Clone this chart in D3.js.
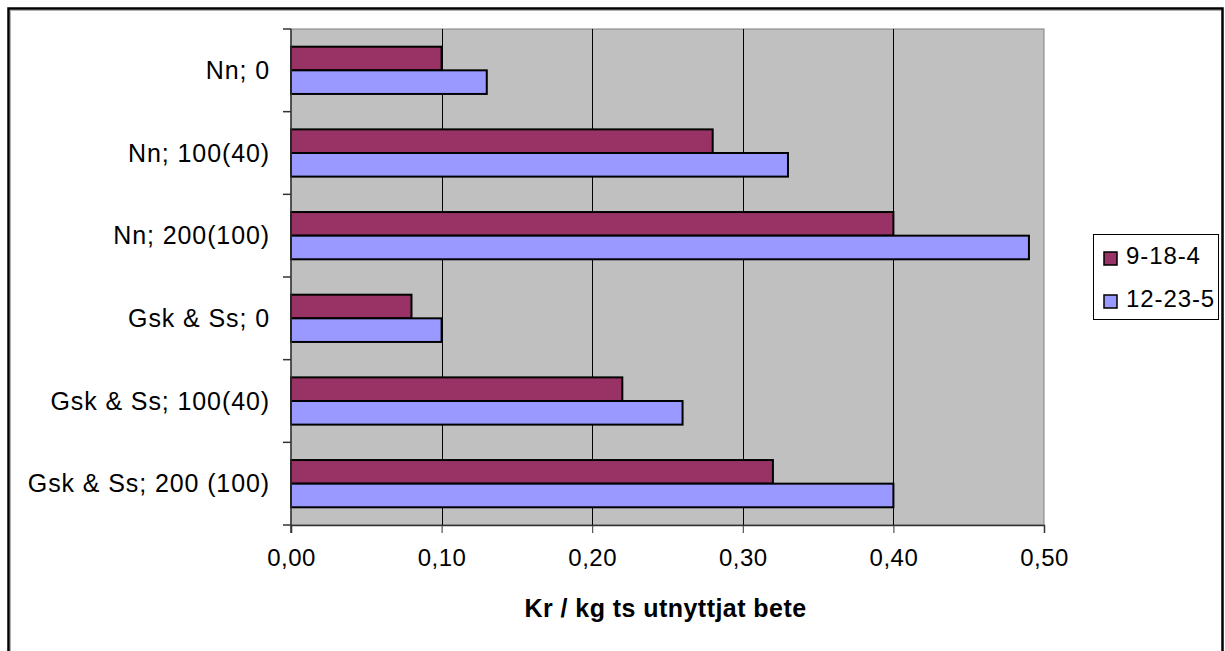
<!DOCTYPE html>
<html>
<head>
<meta charset="utf-8">
<script src="https://cdn.jsdelivr.net/npm/d3@7"></script>
<style>
  html, body { margin: 0; padding: 0; background: #ffffff; }
  svg { display: block; }
  text { font-family: "Liberation Sans", Arial, sans-serif; fill: #000; }
</style>
</head>
<body>
<svg id="chart" width="1225" height="651"></svg>
<script>
// Categories (top to bottom) and series values, kr per kg utilised grazing
const categories = ["Nn; 0", "Nn; 100(40)", "Nn; 200(100)", "Gsk & Ss; 0", "Gsk & Ss; 100(40)", "Gsk & Ss; 200 (100)"];
const seriesNames = ["9-18-4", "12-23-5"];
const values_9_18_4 = [0.10, 0.28, 0.40, 0.08, 0.22, 0.32];
const values_12_23_5 = [0.13, 0.33, 0.49, 0.10, 0.26, 0.40];
const xTicks = [0, 0.1, 0.2, 0.3, 0.4, 0.5];
const axisTitle = "Kr / kg ts utnyttjat bete";
const colors = ["#993366", "#9999FF"];

const seriesValues = [values_9_18_4, values_12_23_5];
const rows = categories.map((c, i) => ({
  category: c,
  values: seriesNames.map((s, j) => ({ series: s, value: seriesValues[j][i], idx: j }))
}));

const svg = d3.select("#chart");

// Outer chart frame
svg.append("line").attr("x1", 10).attr("x2", 1221).attr("y1", 10.5).attr("y2", 10.5)
  .attr("stroke", "#b0b0b0").attr("stroke-width", 1);
svg.append("line").attr("x1", 10.5).attr("x2", 10.5).attr("y1", 10).attr("y2", 651)
  .attr("stroke", "#b0b0b0").attr("stroke-width", 1);
svg.append("path")
  .attr("d", "M8.5,660 V8.5 H1222.5 V660")
  .attr("fill", "none").attr("stroke", "#000").attr("stroke-width", 2.5);

// Plot area
const plot = { left: 291, top: 29, right: 1044, bottom: 525 };

const x = d3.scaleLinear().domain([0, 0.5]).range([plot.left, plot.right]);
const y = d3.scaleBand().domain(categories).range([plot.top, plot.bottom])
  .paddingInner(3 / 7).paddingOuter(1.5 / 7);
const ySub = d3.scaleBand().domain(seriesNames).range([0, y.bandwidth()]);

svg.append("rect")
  .attr("x", plot.left).attr("y", plot.top)
  .attr("width", plot.right - plot.left).attr("height", plot.bottom - plot.top)
  .attr("fill", "#C0C0C0").attr("stroke", "#808080").attr("stroke-width", 1);

// Vertical gridlines
svg.append("g").selectAll("line").data(xTicks.filter(d => d > 0 && d < 0.5)).join("line")
  .attr("x1", d => Math.round(x(d)) + 0.5).attr("x2", d => Math.round(x(d)) + 0.5)
  .attr("y1", plot.top).attr("y2", plot.bottom)
  .attr("stroke", "#000").attr("stroke-width", 1);

// Bars
const groups = svg.append("g").selectAll("g").data(rows).join("g")
  .attr("transform", d => `translate(0,${y(d.category)})`);
groups.selectAll("rect").data(d => d.values).join("rect")
  .attr("x", x(0))
  .attr("y", d => ySub(d.series))
  .attr("width", d => x(d.value) - x(0))
  .attr("height", ySub.bandwidth())
  .attr("fill", d => colors[d.idx])
  .attr("stroke", "#000").attr("stroke-width", 2);

// X axis
const xAxis = d3.axisBottom(x).tickValues(xTicks).tickSize(8).tickPadding(16)
  .tickFormat(d => d3.format(".2f")(d).replace(".", ","));
const gx = svg.append("g").attr("transform", `translate(0,${plot.bottom})`).call(xAxis);
gx.select(".domain").attr("stroke", "#333").attr("stroke-width", 1.5);
gx.selectAll(".tick line").attr("stroke", "#333");
gx.selectAll(".tick text").attr("font-size", 24).attr("font-family", "Liberation Sans, Arial, sans-serif")
  .attr("letter-spacing", "0.5px").attr("fill", "#000");

// Y axis: line with ticks at category boundaries
const boundaries = d3.range(categories.length + 1).map(i => plot.top + i * (plot.bottom - plot.top) / categories.length);
svg.append("line").attr("x1", plot.left).attr("x2", plot.left)
  .attr("y1", plot.top).attr("y2", plot.bottom + 8)
  .attr("stroke", "#333").attr("stroke-width", 1.5);
svg.append("g").selectAll("line").data(boundaries).join("line")
  .attr("x1", plot.left - 8).attr("x2", plot.left)
  .attr("y1", d => d).attr("y2", d => d)
  .attr("stroke", "#333").attr("stroke-width", 1.5);

// Category labels
svg.append("g").selectAll("text").data(categories).join("text")
  .attr("x", plot.left - 21)
  .attr("y", d => y(d) + y.bandwidth() / 2)
  .attr("dy", "0.35em")
  .attr("text-anchor", "end")
  .attr("font-size", 25)
  .attr("letter-spacing", "0.9px")
  .text(d => d);

// Axis title
svg.append("text")
  .attr("x", (plot.left + plot.right) / 2 - 2)
  .attr("y", 617)
  .attr("text-anchor", "middle")
  .attr("font-size", 25).attr("font-weight", "bold")
  .attr("letter-spacing", "0.45px")
  .text(axisTitle);

// Legend
const legend = svg.append("g").attr("transform", "translate(1093,234)");
legend.append("rect").attr("x", 0.5).attr("y", 0.5).attr("width", 125).attr("height", 85)
  .attr("fill", "#fff").attr("stroke", "#000").attr("stroke-width", 1);
const items = legend.selectAll("g.item").data(seriesNames).join("g").attr("class", "item")
  .attr("transform", (d, i) => `translate(0,${22 + i * 43})`);
items.append("rect").attr("x", 11).attr("y", -4).attr("width", 13).attr("height", 13)
  .attr("fill", (d, i) => colors[i]).attr("stroke", "#000").attr("stroke-width", 1.5);
items.append("text").attr("x", 33).attr("y", 8).attr("font-size", 24)
  .attr("letter-spacing", "0.9px").text(d => d);
</script>
</body>
</html>
